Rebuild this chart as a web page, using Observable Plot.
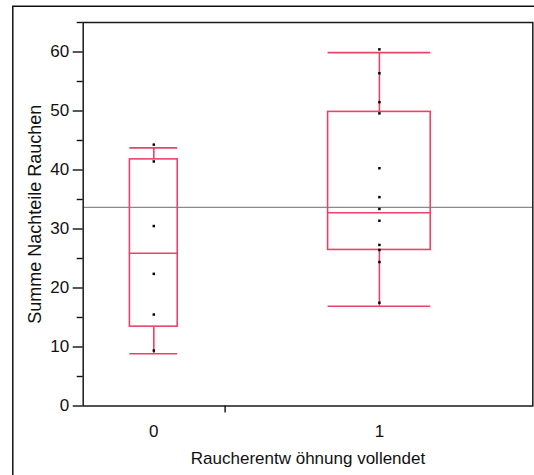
<!DOCTYPE html>
<html>
<head>
<meta charset="utf-8">
<script src="https://cdn.jsdelivr.net/npm/d3@7"></script>
<script src="https://cdn.jsdelivr.net/npm/@observablehq/plot@0.6"></script>
<style>
  html, body { margin: 0; padding: 0; background: #fff; overflow: hidden; }
  #wrap { position: relative; width: 534px; height: 475px; overflow: hidden; }
  #wrap svg { display: block; }
</style>
</head>
<body>
<div id="wrap"></div>
<script>
// ---- data ----
const groups = [0, 1];
const points0 = [44.3, 41.45, 30.5, 22.4, 15.5, 9.4];
const points1 = [60.45, 56.4, 51.5, 49.6, 40.3, 35.4, 33.4, 31.4, 27.3, 26.45, 24.4, 17.5];
const whiskerLow = [8.85, 16.9];
const q1 = [13.45, 26.45];
const medians = [25.9, 32.75];
const q3 = [41.8, 49.85];
const whiskerHigh = [43.75, 59.9];
const grandMean = 33.67;
const groupLabels = ["0", "1"];
const yTicks = [0, 10, 20, 30, 40, 50, 60];
const yMinorTicks = [5, 15, 25, 35, 45, 55, 65];
const groupBoundary = [0.316];
const xLabel = "Raucherentw öhnung vollendet";
const yLabel = "Summe Nachteile Rauchen";

// ---- styling ----
const red = "#e8436a";
const boxHalf = [0.106, 0.2275];
const font = "'Liberation Sans', Arial, sans-serif";

const boxes = groups.map((g, i) => ({
  g, x1: g - boxHalf[i], x2: g + boxHalf[i],
  lo: whiskerLow[i], q1: q1[i], med: medians[i], q3: q3[i], hi: whiskerHigh[i]
}));
const pts = [
  ...points0.map(v => ({g: groups[0], v})),
  ...points1.map(v => ({g: groups[1], v}))
];

const chart = Plot.plot({
  width: 534,
  height: 475,
  marginLeft: 82.7,
  marginRight: 1.7,
  marginTop: 22,
  marginBottom: 69.5,
  style: {fontFamily: font, fontSize: "17px", color: "#111", background: "transparent"},
  x: {domain: [-0.313, 1.68]},
  y: {domain: [0, 65]},
  marks: [
    Plot.ruleY([grandMean], {stroke: "#8a8a8a", strokeWidth: 1.4}),
    Plot.ruleX(boxes, {x: "g", y1: "lo", y2: "q1", stroke: red, strokeWidth: 1.6}),
    Plot.ruleX(boxes, {x: "g", y1: "q3", y2: "hi", stroke: red, strokeWidth: 1.6}),
    Plot.ruleY(boxes, {y: "lo", x1: "x1", x2: "x2", stroke: red, strokeWidth: 1.6}),
    Plot.ruleY(boxes, {y: "hi", x1: "x1", x2: "x2", stroke: red, strokeWidth: 1.6}),
    Plot.rect(boxes, {x1: "x1", x2: "x2", y1: "q1", y2: "q3", fill: "none", stroke: red, strokeWidth: 1.6}),
    Plot.ruleY(boxes, {y: "med", x1: "x1", x2: "x2", stroke: red, strokeWidth: 1.6}),
    Plot.dot(pts, {x: "g", y: "v", symbol: "square", r: 1.4, fill: "#000", stroke: "none"}),
    Plot.frame({stroke: "#1a1a1a", strokeWidth: 1.5}),
    Plot.axisY(yTicks, {tickSize: 10, tickPadding: 4, stroke: "#111", strokeWidth: 1.4, fontSize: 17, label: null}),
    Plot.axisY(yMinorTicks, {tickSize: 6, tickFormat: () => "", stroke: "#111", strokeWidth: 1.4, label: null}),
    Plot.axisX(groups, {tickSize: 0, tickPadding: 19, tickFormat: (d, i) => groupLabels[i], fontSize: 17, label: null}),
    Plot.axisX(groupBoundary, {tickSize: 7, tickFormat: () => "", stroke: "#111", strokeWidth: 1.4, label: null}),
    Plot.text([xLabel], {frameAnchor: "bottom", dy: 53, text: d => d, fontSize: 17, lineAnchor: "middle", textAnchor: "middle", fill: "#111"}),
    Plot.text([yLabel], {frameAnchor: "left", dx: -47.5, rotate: -90, text: d => d, fontSize: 18, lineAnchor: "middle", textAnchor: "middle", fill: "#111"})
  ]
});
// outer panel border (top and left edges visible in the reference)
const svg = d3.select(chart);
svg.append("path")
  .attr("d", "M12.8,475V6.2H534")
  .attr("fill", "none")
  .attr("stroke", "#111")
  .attr("stroke-width", 1.5);
document.getElementById("wrap").append(chart);
</script>
</body>
</html>
